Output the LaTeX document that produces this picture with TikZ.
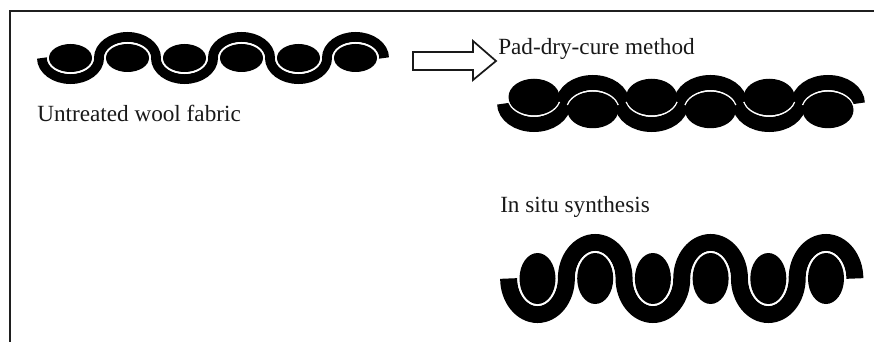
\documentclass[tikz,border=0pt]{standalone}
\usepackage{fontspec}
\setmainfont{Liberation Serif}

% Parameters of one woven strip: six weft yarns (ellipses) and a warp band
% that passes under, over, under ... them.
\pgfkeys{
  /fabric/.is family, /fabric,
  start/.store in=\fStart,        % x of the first yarn centre
  half pitch/.store in=\fHalf,    % half the distance between yarn centres
  axis/.store in=\fAxis,          % y of the band axis
  amplitude/.store in=\fAmp,      % vertical radius of each band arc
  thickness/.store in=\fThick,    % band width
  yarn rx/.store in=\fRx,
  yarn ry/.store in=\fRy,
  yarn shift/.store in=\fShift,   % yarns pushed into their arcs
  gap/.store in=\fGap,            % white seam between yarn and band
  gap trim/.store in=\fTrim,      % seam stops this many degrees short
}

\newcommand\wovenfabric[1]{%
  \begingroup
  \pgfkeys{/fabric,yarn shift=0,gap trim=0,#1}%
  % warp band
  \draw[warp, line width=\fThick*0.75pt] (\fStart-\fHalf,\fAxis)
    \foreach \s/\e in {180/0,180/360,180/0,180/360,180/0,180/360}
    { arc[start angle=\s,end angle=\e,x radius=\fHalf,y radius=\fAmp] };
  % seams on the side of each yarn that faces its band arc
  \foreach \i in {0,...,5}{%
    \pgfmathsetmacro\cx{\fStart+2*\fHalf*\i}%
    \ifodd\i
      \pgfmathsetmacro\cy{\fAxis+\fShift}%
      \pgfmathsetmacro\sa{180+\fTrim}\pgfmathsetmacro\ea{360-\fTrim}%
    \else
      \pgfmathsetmacro\cy{\fAxis-\fShift}%
      \pgfmathsetmacro\sa{\fTrim}\pgfmathsetmacro\ea{180-\fTrim}%
    \fi
    \pgfmathsetmacro\gx{\fRx+\fGap/2}\pgfmathsetmacro\gy{\fRy+\fGap/2}%
    \draw[seam, line width=\fGap*0.75pt] (\cx,\cy)
      ++({\gx*cos(\sa)},{\gy*sin(\sa)})
      arc[start angle=\sa,end angle=\ea,x radius=\gx,y radius=\gy];
  }%
  % weft yarns
  \foreach \i in {0,...,5}{%
    \pgfmathsetmacro\cx{\fStart+2*\fHalf*\i}%
    \ifodd\i
      \pgfmathsetmacro\cy{\fAxis+\fShift}%
    \else
      \pgfmathsetmacro\cy{\fAxis-\fShift}%
    \fi
    \fill[yarn] (\cx,\cy) ellipse[x radius=\fRx, y radius=\fRy];
  }%
  \endgroup}

\begin{document}
\begin{tikzpicture}[x=0.75pt,y=-0.75pt,
    frame/.style={draw=black!88, line width=1.6pt, line join=miter},
    warp/.style={draw=black, line cap=butt},
    seam/.style={draw=white, line cap=butt},
    yarn/.style={fill=black},
    captiontext/.style={inner sep=0pt, anchor=base west, text=black!90,
      font=\fontsize{17.4pt}{20pt}\selectfont},
    blockarrow/.style={draw=black!90, fill=white, line width=1.3pt, line join=miter}]

  \fill[white] (0,0) rectangle (874,342);
  \useasboundingbox (0,0) rectangle (874,342);

  % open frame: top and left edges
  \draw[frame] (10,342) -- (10,11) -- (874,11);

  % untreated fabric
  \wovenfabric{start=70.5, half pitch=28.5, axis=58, amplitude=21,
    thickness=10, yarn rx=21.5, yarn ry=14, gap=2}
  \node[captiontext] (untreated) at (37,122) {Untreated wool fabric};

  % treatment arrow
  \draw[blockarrow] (413,52) -- (473,52) -- (473,41) -- (496,61)
    -- (473,80) -- (473,70) -- (413,70) -- cycle;

  % pad-dry-cure fabric
  \node[captiontext] (paddry) at (498,55) {Pad-dry-cure method};
  \wovenfabric{start=534, half pitch=29.4, axis=103.5, amplitude=21,
    thickness=15, yarn rx=25.5, yarn ry=18.25, yarn shift=6.5,
    gap=1.5, gap trim=15}

  % in situ fabric
  \node[captiontext] (insitu) at (500,212) {In situ synthesis};
  \wovenfabric{start=537.5, half pitch=28.85, axis=278.5, amplitude=36,
    thickness=17, yarn rx=18, yarn ry=25.5, gap=2}
\end{tikzpicture}
\end{document}
